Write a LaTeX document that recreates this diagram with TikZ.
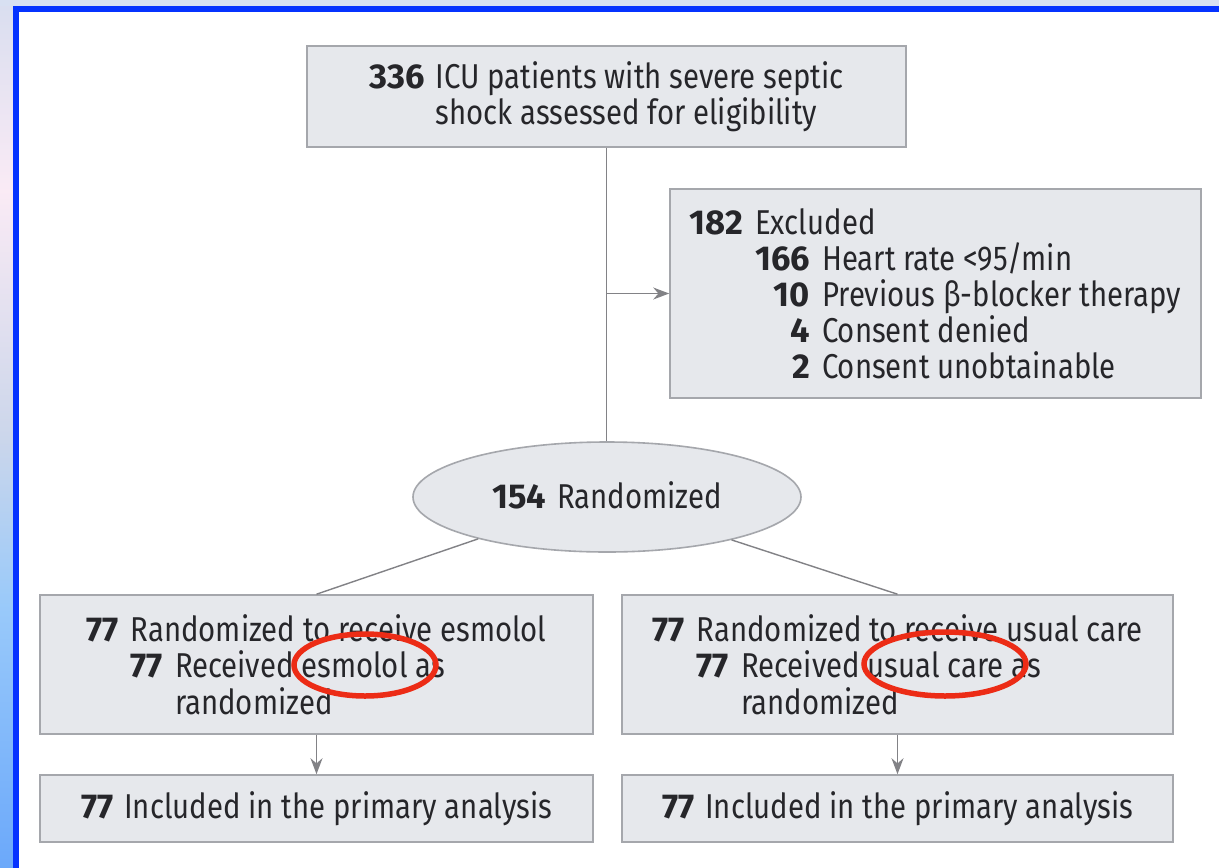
\documentclass[tikz,border=0pt]{standalone}
\usepackage{fontspec}
\setmainfont{Fira Sans}[FakeStretch=0.85, BoldFeatures={FakeStretch=1.0}]
\usetikzlibrary{arrows.meta,shapes.geometric}
\definecolor{boxfill}{RGB}{230,232,236}
\definecolor{boxline}{RGB}{165,167,172}
\definecolor{connline}{RGB}{130,130,134}
\definecolor{txt}{RGB}{38,38,42}
\definecolor{frameblue}{RGB}{5,50,255}
\definecolor{topstrip}{RGB}{216,224,242}
\definecolor{markred}{RGB}{236,44,22}
\pgfdeclareverticalshading{leftstrip}{100bp}{%
  rgb(0bp)=(0.42,0.66,0.98);
  rgb(25bp)=(0.42,0.66,0.98);
  rgb(40bp)=(0.60,0.79,0.98);
  rgb(50bp)=(0.80,0.84,0.92);
  rgb(64bp)=(0.98,0.92,0.96);
  rgb(75bp)=(0.85,0.87,0.94);
  rgb(100bp)=(0.85,0.87,0.94)}
\newlength\numw
% number #2, right-aligned in a slot as wide as bold #1
\newcommand{\nb}[2]{\settowidth{\numw}{\textbf{#1}}\makebox[\numw][r]{\textbf{#2}}}
\newcommand{\gap}{\hspace{12pt}}
\newcommand{\skipnum}[1]{\settowidth{\numw}{\textbf{#1}}\hspace*{\numw}\gap}
\tikzset{
  box/.style={draw=boxline, fill=boxfill, line width=1.6pt, inner sep=0pt,
    text=txt, align=left, font=\fontsize{34.5}{36}\selectfont},
  conn/.style={draw=connline, line width=1.4pt},
  arr/.style={conn, -{Stealth[length=16pt,width=12pt]}},
  redmark/.style={ellipse, draw=markred, line width=5.5pt, inner sep=0pt}
}
\begin{document}
\begin{tikzpicture}[x=1pt,y=-1pt]
\useasboundingbox (0,0) rectangle (1219,868);
\fill[white] (0,0) rectangle (1219,868);
\shade[shading=leftstrip] (0,0) rectangle (13,868);
\fill[topstrip] (0,0) rectangle (1219,6);
\draw[frameblue, line width=6pt] (16,868) -- (16,9) -- (1219,9);

\node[box, minimum width=599pt, minimum height=101pt] (assess) at (606.5,96.5)
  {\nb{336}{336}\hspace{11pt}ICU patients with severe septic\\
   \settowidth{\numw}{\textbf{336}}\hspace*{\numw}\hspace{11pt}shock assessed for eligibility};

\node[box, minimum width=531pt, minimum height=209pt] (excl) at (935.5,293.5)
  {\nb{182}{182}\gap Excluded\\
   \skipnum{182}\nb{166}{166}\gap Heart rate <95/min\\
   \skipnum{182}\nb{166}{10}\gap Previous β-blocker therapy\\
   \skipnum{182}\nb{166}{4}\gap Consent denied\\
   \skipnum{182}\nb{166}{2}\gap Consent unobtainable};

\node[box, ellipse, minimum width=388pt, minimum height=110pt] (rand) at (607,497)
  {\textbf{154}\hspace{11pt}Randomized\rule[-4pt]{0pt}{4pt}};

\node[box, font=\fontsize{34.5}{36.5}\selectfont, minimum width=553pt, minimum height=139pt] (esm) at (316.5,664.5)
  {\nb{77}{77}\gap Randomized to receive esmolol\\
   \skipnum{77}\nb{77}{77}\gap Received esmolol as\\
   \skipnum{77}\skipnum{77}randomized};

\node[box, font=\fontsize{34.5}{36.5}\selectfont, minimum width=551pt, minimum height=139pt] (usual) at (897.5,664.5)
  {\nb{77}{77}\gap Randomized to receive usual care\\
   \skipnum{77}\nb{77}{77}\gap Received usual care as\\
   \skipnum{77}\skipnum{77}randomized};

\node[box, minimum width=553pt, minimum height=67pt] (esmpa) at (316.5,808.5)
  {\textbf{77}\hspace{11pt}Included in the primary analysis};

\node[box, minimum width=551pt, minimum height=67pt] (usualpa) at (897.5,808.5)
  {\textbf{77}\hspace{11pt}Included in the primary analysis};

\draw[conn] (assess.south) -- (assess.south |- rand.north);
\coordinate (branch) at (assess.south |- excl.west);
\draw[arr] (branch) -- (excl.west);
\draw[conn] (rand.198) -- (esm.north);
\draw[conn] (rand.341) -- (usual.north);
\draw[arr] (esm.south) -- (esmpa.north);
\draw[arr] (usual.south) -- (usualpa.north);

\node[redmark, minimum width=142pt, minimum height=62pt] (mark1) at (365,665) {};
\node[redmark, minimum width=162pt, minimum height=64pt] (mark2) at (945,664) {};
\end{tikzpicture}
\end{document}
